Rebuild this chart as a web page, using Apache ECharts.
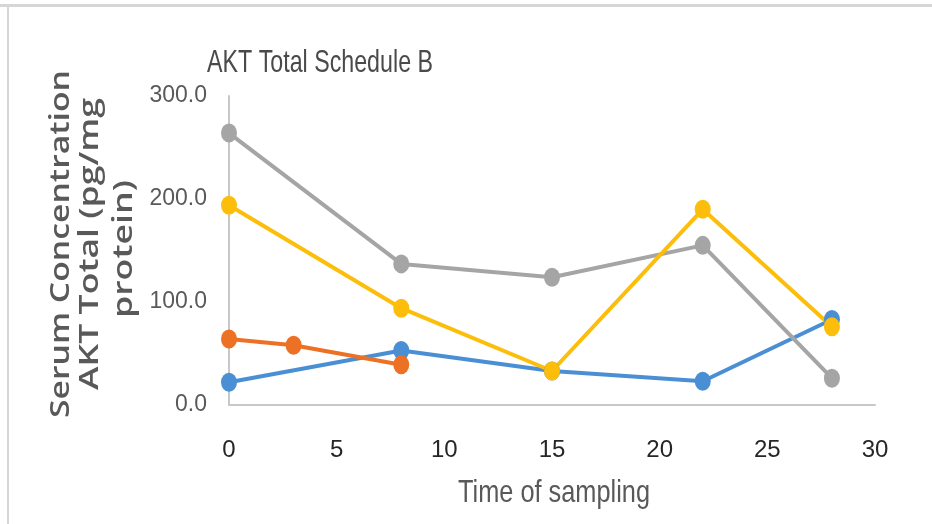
<!DOCTYPE html>
<html>
<head>
<meta charset="utf-8">
<script src="https://cdn.jsdelivr.net/npm/echarts@6/dist/echarts.min.js"></script>
<style>
html,body{margin:0;padding:0;background:#fff;}
#c{width:932px;height:524px;}
</style>
</head>
<body>
<div id="c"></div>
<script>
// Data
var xTicks = [0, 5, 10, 15, 20, 25, 30];
var yTicks = [0, 100, 200, 300];
var series1 = [[0, 22], [8, 53], [15, 33], [22, 23], [28, 83]];      // blue
var series2 = [[0, 64], [3, 58], [8, 39]];                            // orange
var series3 = [[0, 264], [8, 137], [15, 124], [22, 155], [28, 26]];   // gray
var series4 = [[0, 194], [8, 94], [15, 33], [22, 190], [28, 76]];     // yellow
var seriesNames = ['Series1', 'Series2', 'Series3', 'Series4'];
var colors = ['#4a8fd3', '#ed7125', '#a5a5a5', '#fcbe0a'];
var titleText = 'AKT Total Schedule B';
var xName = 'Time of sampling';
var yNameLines = ['Serum Concentration', 'AKT Total (pg/mg', 'protein)'];

var sans = "'Liberation Sans', Arial, sans-serif";
var chart = echarts.init(document.getElementById('c'), null, {renderer: 'canvas'});

function mk(name, data, color) {
  return {
    name: name, type: 'line', data: data,
    lineStyle: {color: color, width: 4},
    itemStyle: {color: color},
    symbol: 'circle', symbolSize: [16, 19],
    showSymbol: true, animation: false, z: 2
  };
}

var ctx = document.createElement('canvas').getContext('2d');
function widthOf(t, font) { ctx.font = font; return ctx.measureText(t).width; }

var graphics = [
  {type: 'rect', shape: {x: 0, y: 4, width: 932, height: 3}, style: {fill: '#d6d6d6'}, silent: true},
  {type: 'rect', shape: {x: 7, y: 4, width: 2, height: 520}, style: {fill: '#d6d6d6'}, silent: true}
];

// rotated y-axis title, each line fitted to the length seen in the reference
var yFont = "600 27px 'Open Sans', sans-serif";
var yLen = [348, 292, 138];
var yLineX = [61, 90, 124];
var yLineY = [244, 244, 249];
yNameLines.forEach(function (t, i) {
  graphics.push({
    type: 'text', x: yLineX[i], y: yLineY[i], rotation: Math.PI / 2,
    scaleX: yLen[i] / widthOf(t, yFont), scaleY: 1,
    style: {text: t, font: yFont, fill: '#595959', align: 'center', verticalAlign: 'middle'},
    silent: true
  });
});

// chart title (tall, narrow lettering as in the reference)
var tFont = "23px " + sans;
graphics.push({
  type: 'text', x: 207, y: 64,
  scaleX: 226 / widthOf(titleText, tFont), scaleY: 22 / (0.716 * 23),
  style: {text: titleText, font: tFont, fill: '#4a4a4a', align: 'left', verticalAlign: 'middle'},
  silent: true
});
// x-axis title
var nFont = "24px " + sans;
graphics.push({
  type: 'text', x: 554, y: 494,
  scaleX: 192 / widthOf(xName, nFont), scaleY: 22 / (0.716 * 24),
  style: {text: xName, font: nFont, fill: '#595959', align: 'center', verticalAlign: 'middle'},
  silent: true
});

chart.setOption({
  backgroundColor: '#ffffff',
  animation: false,
  grid: {left: 229, right: 57, top: 96, bottom: 119, containLabel: false},
  xAxis: {
    type: 'value', min: 0, max: 30, interval: 5,
    axisLine: {show: true, lineStyle: {color: '#c8c8c8', width: 2}},
    axisTick: {show: false},
    splitLine: {show: false},
    axisLabel: {fontFamily: sans, fontSize: 24, color: '#262626', margin: 33,
      formatter: function (v) { return xTicks.indexOf(v) >= 0 ? String(v) : ''; }}
  },
  yAxis: {
    type: 'value', min: 0, max: 300, interval: 100,
    axisLine: {show: true, lineStyle: {color: '#c8c8c8', width: 2}},
    axisTick: {show: false},
    splitLine: {show: false},
    axisLabel: {fontFamily: sans, fontSize: 23, color: '#595959', margin: 22,
      formatter: function (v) { return yTicks.indexOf(v) >= 0 ? v.toFixed(1) : ''; }}
  },
  graphic: graphics,
  series: [
    mk(seriesNames[0], series1, colors[0]),
    mk(seriesNames[1], series2, colors[1]),
    mk(seriesNames[2], series3, colors[2]),
    mk(seriesNames[3], series4, colors[3])
  ]
});
</script>
</body>
</html>
